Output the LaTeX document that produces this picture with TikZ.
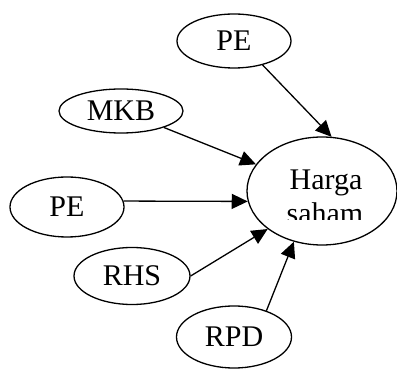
\documentclass[tikz,border=0pt]{standalone}
\usepackage{fontspec}
\setmainfont{Liberation Serif}
\usetikzlibrary{shapes.geometric,arrows.meta}
\begin{document}
\begin{tikzpicture}[x=1pt,y=-1pt,
  ell/.style={draw,ellipse,line width=1.3pt,inner sep=0pt,font=\fontsize{30}{34}\selectfont},
  txt/.style={inner sep=0pt,anchor=base,font=\fontsize{30}{34}\selectfont},
  conn/.style={line width=1.3pt,-{Triangle[length=16pt,width=15pt]}}]
\useasboundingbox (0,0) rectangle (397,371);
\node[ell,minimum width=114pt,minimum height=54pt] (pe1) at (234,41) {PE};
\node[ell,minimum width=124pt,minimum height=44pt] (mkb) at (121,111) {MKB};
\node[ell,minimum width=114pt,minimum height=60pt] (pe2) at (67,207) {PE};
\node[ell,minimum width=116pt,minimum height=57pt] (rhs) at (132,276) {RHS};
\node[ell,minimum width=115pt,minimum height=62pt] (rpd) at (234,337) {RPD};
\node[ell,minimum width=150pt,minimum height=108pt] (hs) at (322,191) {};
\node[txt] (harga) at (326,190) {Harga};
\begin{scope}
\clip (240,150) rectangle (397,219.5);
\node[txt] (saham) at (325,224) {saham};
\end{scope}
\draw[conn] (pe1.-40) -- (hs.80);
\draw[conn] (mkb.-21) -- (hs.158);
\draw[conn] (pe2.6) -- (hs.188);
\draw[conn] (rhs.east) -- (hs.215);
\draw[conn] (rpd.39) -- (hs.241);
\end{tikzpicture}
\end{document}
